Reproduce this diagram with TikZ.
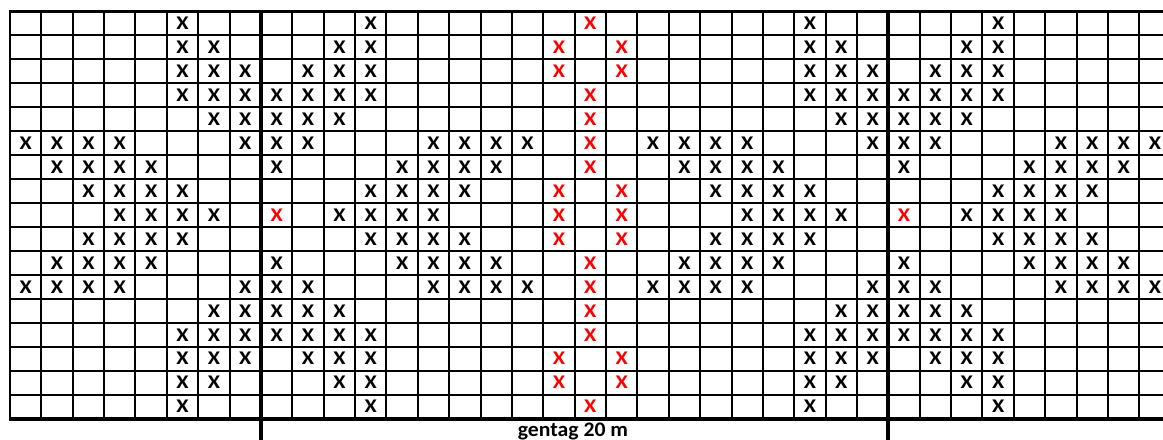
\documentclass[tikz,border=0pt]{standalone}
\usepackage{fontspec}
\setmainfont{Carlito}
\begin{document}
\begin{tikzpicture}[x=0.75pt,y=-0.75pt,
  gridline/.style={line width=1.5pt},
  sectionline/.style={line width=3pt},
  xmark/.style={inner sep=0pt,font=\bfseries\fontsize{14.5}{16}\selectfont},
  xred/.style={xmark,text=red},
  caption/.style={inner sep=0pt,anchor=base,font=\bfseries\fontsize{15.5}{18}\selectfont}]
\useasboundingbox (0,0) rectangle (1163,439);
\def\colw{31.37}
\def\rowh{23.98}
\foreach \i in {1,...,16}
  \draw[gridline] (10,{11+\i*\rowh}) -- (1175,{11+\i*\rowh});
\draw[line width=2.25pt] (9,11) -- (1175,11);
\draw[sectionline] (9,{11+17*\rowh}) -- (1175,{11+17*\rowh});
\foreach \j in {0,...,37}
  \draw[gridline] ({10+\j*\colw},11) -- ({10+\j*\colw},{11+17*\rowh});
\foreach \j in {8,28}
  \draw[sectionline] ({10+\j*\colw},10) -- ({10+\j*\colw},445);
\foreach \r/\blk/\red in {
  1/{12,26}/{19},
  2/{11,12,26,27}/{18,20},
  3/{10,11,12,26,27,28}/{18,20},
  4/{9,10,11,12,26,27,28}/{19},
  5/{9,10,11,27,28}/{19},
  6/{9,10,14,15,16,17,21,22,23,24,28}/{19},
  7/{9,13,14,15,16,22,23,24,25}/{19},
  8/{12,13,14,15,23,24,25,26}/{18,20},
  9/{11,12,13,14,24,25,26,27}/{9,18,20},
  10/{12,13,14,15,23,24,25,26}/{18,20},
  11/{9,13,14,15,16,22,23,24,25}/{19},
  12/{9,10,14,15,16,17,21,22,23,24,28}/{19},
  13/{9,10,11,27,28}/{19},
  14/{9,10,11,12,26,27,28}/{19},
  15/{10,11,12,26,27,28}/{18,20},
  16/{11,12,26,27}/{18,20},
  17/{12,26}/{19}}{
  \foreach \s in {-20,0,20}{
    \foreach \c in \blk{
      \pgfmathtruncatemacro\cc{\c+\s}
      \ifnum\cc>0 \ifnum\cc<38
        \node[xmark] (x\r-\cc) at ({10+(\cc-0.5)*\colw},{11+(\r-0.5)*\rowh}) {\scalebox{1.15}[1]{X}};
      \fi\fi
    }
    \foreach \c in \red{
      \pgfmathtruncatemacro\cc{\c+\s}
      \ifnum\cc>0 \ifnum\cc<38
        \node[xred] (x\r-\cc) at ({10+(\cc-0.5)*\colw},{11+(\r-0.5)*\rowh}) {\scalebox{1.15}[1]{X}};
      \fi\fi
    }
  }
}
\node[caption] (gentag) at (573,436) {\scalebox{1.05}[1]{gentag 20 m}};
\end{tikzpicture}
\end{document}
